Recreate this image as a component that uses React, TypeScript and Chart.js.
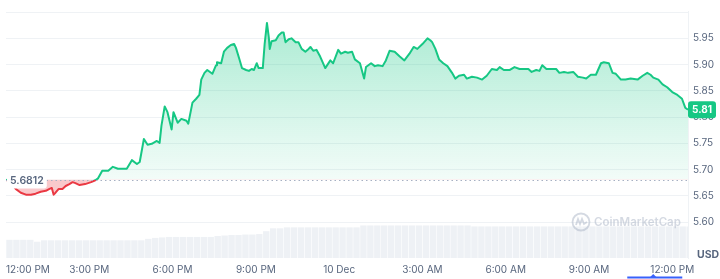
import React, { useEffect, useRef } from 'react';
import { Chart, registerables } from 'chart.js';

Chart.register(...registerables);

const BASE_PRICE = 5.6812;
const X_MAX = 1474; // minutes after 12:00 PM shown on the axis

const timeMinutes = [
  0, 11, 21, 32, 43, 54, 64, 75, 86, 94,
  99, 103, 107, 114, 122, 129, 137, 144, 150, 159,
  171, 184, 193, 199, 208, 221, 231, 242, 253, 261,
  272, 283, 289, 298, 306, 315, 326, 332, 336, 343,
  349, 358, 362, 371, 379, 390, 394, 403, 411, 418,
  422, 429, 435, 446, 454, 456, 465, 471, 478, 486,
  493, 497, 504, 510, 519, 525, 531, 536, 542, 546,
  555, 559, 564, 568, 570, 574, 583, 589, 596, 600,
  604, 611, 617, 626, 632, 639, 647, 654, 658, 664,
  671, 679, 690, 701, 707, 718, 724, 733, 739, 748,
  754, 765, 774, 778, 789, 797, 804, 814, 821, 829,
  840, 851, 861, 872, 881, 889, 900, 911, 917, 921,
  928, 936, 945, 954, 964, 971, 979, 990, 996, 1007,
  1018, 1029, 1039, 1050, 1061, 1067, 1076, 1089, 1099, 1110,
  1129, 1136, 1146, 1153, 1159, 1168, 1179, 1189, 1196, 1206,
  1215, 1226, 1236, 1247, 1254, 1264, 1275, 1286, 1292, 1303,
  1311, 1318, 1329, 1339, 1350, 1365, 1376, 1386, 1393, 1399,
  1410, 1419, 1429, 1440, 1451, 1461, 1468, 1474,
];

const prices = [
  5.6812, 5.6744, 5.6635, 5.6562, 5.6525, 5.6525, 5.6544, 5.6580, 5.6598, 5.6635,
  5.6653, 5.6525, 5.6562, 5.6635, 5.6635, 5.6690, 5.6726, 5.6763, 5.6744, 5.6708,
  5.6726, 5.6763, 5.6799, 5.6836, 5.6982, 5.6982, 5.7055, 5.7018, 5.7018, 5.7018,
  5.7182, 5.7109, 5.7146, 5.7584, 5.7474, 5.7493, 5.7547, 5.7511, 5.7839, 5.8204,
  5.8095, 5.7766, 5.8095, 5.7894, 5.7967, 5.7931, 5.7876, 5.8277, 5.8350, 5.8423,
  5.8715, 5.8843, 5.8898, 5.8825, 5.8989, 5.9044, 5.9026, 5.9245, 5.9318, 5.9372,
  5.9391, 5.9318, 5.9117, 5.8934, 5.8898, 5.8880, 5.8916, 5.8898, 5.9026, 5.8934,
  5.8934, 5.9391, 5.9792, 5.9518, 5.9299, 5.9445, 5.9464, 5.9555, 5.9610, 5.9610,
  5.9427, 5.9482, 5.9500, 5.9427, 5.9427, 5.9299, 5.9245, 5.9299, 5.9336, 5.9263,
  5.9281, 5.9153, 5.8934, 5.9080, 5.9026, 5.9281, 5.9208, 5.9245, 5.9226, 5.9245,
  5.9099, 5.9026, 5.8734, 5.8953, 5.9026, 5.8971, 5.8989, 5.8971, 5.9080, 5.9263,
  5.9245, 5.9153, 5.9080, 5.9208, 5.9336, 5.9299, 5.9391, 5.9500, 5.9464, 5.9427,
  5.9299, 5.9099, 5.9026, 5.8971, 5.8843, 5.8734, 5.8788, 5.8807, 5.8734, 5.8770,
  5.8752, 5.8715, 5.8788, 5.8916, 5.8898, 5.8953, 5.8898, 5.8898, 5.8953, 5.8916,
  5.8916, 5.8861, 5.8898, 5.8880, 5.8989, 5.8916, 5.8916, 5.8916, 5.8843, 5.8861,
  5.8843, 5.8861, 5.8770, 5.8752, 5.8734, 5.8807, 5.8807, 5.9026, 5.9044, 5.9026,
  5.8843, 5.8825, 5.8715, 5.8715, 5.8734, 5.8715, 5.8788, 5.8843, 5.8807, 5.8752,
  5.8715, 5.8624, 5.8569, 5.8478, 5.8423, 5.8350, 5.8180, 5.8140,
];

// volume, one bar per 15 minutes (millions USD)
const VOLUME_SLOT = 15;
const volumes = [
  38, 38, 38, 38, 34, 37, 37, 37, 37, 37,
  37, 37, 37, 37, 37, 37, 37, 37, 37, 37,
  40, 42, 43, 44, 44, 44, 44, 44, 44, 44,
  46, 47, 48, 48, 49, 49, 50, 56, 62, 62,
  64, 64, 64, 64, 64, 64, 64, 64, 64, 64,
  64, 68, 68, 68, 68, 68, 68, 68, 68, 68,
  68, 68, 68, 68, 68, 68, 68, 66, 66, 66,
  66, 66, 66, 66, 66, 66, 66, 66, 66, 66,
  66, 66, 66, 66, 66, 66, 66, 66, 66, 66,
  66, 66, 66, 66, 66, 66, 66, 66, 66,
];
const VOLUME_AXIS_MAX = 516;

const xTickMinutes = [0, 180, 360, 540, 720, 900, 1080, 1260, 1440];
const xTickLabels = ['12:00 PM', '3:00 PM', '6:00 PM', '9:00 PM', '10 Dec', '3:00 AM', '6:00 AM', '9:00 AM', '12:00 PM'];
const yTickValues = [5.6, 5.65, 5.7, 5.75, 5.8, 5.85, 5.9, 5.95, 6.0];

const GREEN = '#16c784';
const RED = '#ea3943';
const TEXT = '#58667e';
const FONT = 'Inter, "Noto Sans", sans-serif';

export default function App() {
  const ref = useRef<HTMLCanvasElement>(null);

  useEffect(() => {
    document.body.style.margin = '0';
    const canvas = ref.current;
    if (!canvas) return;

    const lineColor = (c: any) => {
      const ch = c.chart;
      const a = ch.chartArea;
      if (!a) return GREEN;
      const yb = ch.scales.y.getPixelForValue(BASE_PRICE);
      const t = Math.min(1, Math.max(0, (yb - a.top) / (a.bottom - a.top)));
      const g = ch.ctx.createLinearGradient(0, a.top, 0, a.bottom);
      g.addColorStop(0, GREEN);
      g.addColorStop(t, GREEN);
      g.addColorStop(t, RED);
      g.addColorStop(1, RED);
      return g;
    };

    const fillColor = (c: any) => {
      const ch = c.chart;
      const a = ch.chartArea;
      if (!a) return 'rgba(22,199,132,0.2)';
      const yb = ch.scales.y.getPixelForValue(BASE_PRICE);
      const g = ch.ctx.createLinearGradient(0, a.top, 0, yb);
      g.addColorStop(0, 'rgba(22,199,132,0.38)');
      g.addColorStop(1, 'rgba(22,199,132,0.05)');
      return g;
    };

    const decor = {
      id: 'decor',
      afterDatasetsDraw(chart: any) {
        const { ctx, chartArea: a, scales } = chart;
        const ys = scales.y;
        const xs = scales.x;
        const yb = Math.round(ys.getPixelForValue(BASE_PRICE)) + 0.5;
        ctx.save();

        // watermark
        const wmx = a.right - 107;
        const wmy = a.bottom - 36;
        const wmColor = 'rgba(170,180,198,0.5)';
        ctx.strokeStyle = wmColor;
        ctx.lineWidth = 1.8;
        ctx.beginPath();
        ctx.arc(wmx, wmy, 8.5, 0, Math.PI * 2);
        ctx.stroke();
        ctx.beginPath();
        ctx.moveTo(wmx - 5, wmy + 3);
        ctx.lineTo(wmx - 3, wmy - 3);
        ctx.lineTo(wmx - 1, wmy + 2);
        ctx.lineTo(wmx + 1, wmy - 3);
        ctx.lineTo(wmx + 3, wmy + 2);
        ctx.lineTo(wmx + 6, wmy);
        ctx.stroke();
        ctx.fillStyle = wmColor;
        ctx.font = `600 11.5px ${FONT}`;
        ctx.textAlign = 'left';
        ctx.textBaseline = 'middle';
        ctx.fillText('CoinMarketCap', wmx + 13, wmy + 1);

        // dotted baseline
        ctx.strokeStyle = '#a6b0c3';
        ctx.lineWidth = 1;
        ctx.setLineDash([1.5, 3]);
        ctx.beginPath();
        ctx.moveTo(a.left, yb);
        ctx.lineTo(a.right, yb);
        ctx.stroke();
        ctx.setLineDash([]);

        // base price label
        ctx.font = `600 10.5px ${FONT}`;
        const bw = ctx.measureText(BASE_PRICE.toFixed(4)).width;
        ctx.fillStyle = '#ffffff';
        ctx.beginPath();
        ctx.roundRect(a.left + 1, yb - 8, bw + 6, 16, 3);
        ctx.fill();
        ctx.fillStyle = TEXT;
        ctx.textAlign = 'left';
        ctx.textBaseline = 'middle';
        ctx.fillText(BASE_PRICE.toFixed(4), a.left + 4, yb + 0.5);

        // last price label
        const last = prices[prices.length - 1];
        const ly = ys.getPixelForValue(last);
        ctx.fillStyle = GREEN;
        ctx.beginPath();
        ctx.roundRect(a.right, ly - 8.5, 28, 17, 3);
        ctx.fill();
        ctx.fillStyle = '#ffffff';
        ctx.font = `bold 10px ${FONT}`;
        ctx.textAlign = 'center';
        ctx.fillText(last.toFixed(2), a.right + 14, ly + 0.5);

        // currency
        ctx.fillStyle = TEXT;
        ctx.font = `bold 10.5px ${FONT}`;
        ctx.textAlign = 'left';
        ctx.fillText('USD', a.right + 9, a.bottom - 3);

        // time range indicator
        const cx = xs.getPixelForValue(xTickMinutes[xTickMinutes.length - 1]);
        const H = chart.height;
        ctx.strokeStyle = '#3861fb';
        ctx.lineWidth = 2;
        ctx.beginPath();
        ctx.moveTo(cx - 45, H - 1.5);
        ctx.lineTo(cx + 10, H - 1.5);
        ctx.stroke();
        ctx.fillStyle = '#3861fb';
        ctx.beginPath();
        ctx.moveTo(cx - 19, H - 5);
        ctx.lineTo(cx - 23, H - 1);
        ctx.lineTo(cx - 15, H - 1);
        ctx.closePath();
        ctx.fill();

        ctx.restore();
      },
    };

    const chart = new Chart(canvas, {
      type: 'line',
      data: {
        datasets: [
          {
            type: 'line',
            data: timeMinutes.map((t, i) => ({ x: t, y: prices[i] })),
            xAxisID: 'x',
            yAxisID: 'y',
            borderColor: lineColor,
            backgroundColor: fillColor,
            borderWidth: 2,
            borderJoinStyle: 'round',
            pointRadius: 0,
            tension: 0,
            fill: { target: { value: BASE_PRICE }, below: 'rgba(234,57,67,0.27)' },
            order: 1,
          } as any,
          {
            type: 'bar',
            data: volumes.map((v, i) => ({ x: i * VOLUME_SLOT + VOLUME_SLOT / 2, y: v })),
            xAxisID: 'x',
            yAxisID: 'v',
            backgroundColor: '#eef1f5',
            barPercentage: 0.92,
            categoryPercentage: 1,
            order: 2,
          } as any,
        ],
      },
      options: {
        responsive: true,
        maintainAspectRatio: false,
        animation: false,
        layout: { padding: 0 },
        plugins: { legend: { display: false }, tooltip: { enabled: false } },
        scales: {
          x: {
            type: 'linear',
            min: 0,
            max: X_MAX,
            offset: false,
            afterBuildTicks: (s: any) => {
              s.ticks = [...xTickMinutes, X_MAX].map((v) => ({ value: v }));
            },
            afterFit: (s: any) => {
              s.height = 21;
            },
            grid: { display: false, drawTicks: false },
            border: { display: false },
            ticks: {
              autoSkip: false,
              maxRotation: 0,
              minRotation: 0,
              align: 'inner',
              padding: 6,
              color: TEXT,
              font: { family: FONT, size: 10 },
              callback: (v: any) => {
                const i = xTickMinutes.indexOf(Number(v));
                return i >= 0 ? xTickLabels[i] : '';
              },
            },
          },
          y: {
            type: 'linear',
            position: 'right',
            min: 5.532,
            max: 6.002,
            afterBuildTicks: (s: any) => {
              s.ticks = yTickValues.map((v) => ({ value: v }));
            },
            afterFit: (s: any) => {
              s.width = 32;
            },
            grid: { color: '#eff2f5', drawTicks: false },
            border: { display: true, color: '#eff2f5' },
            ticks: {
              padding: 5,
              color: TEXT,
              font: { family: FONT, size: 10 },
              callback: (v: any) => (Number(v) > 5.99 ? '' : Number(v).toFixed(2)),
            },
          },
          v: {
            type: 'linear',
            display: false,
            min: 0,
            max: VOLUME_AXIS_MAX,
          },
        },
      } as any,
      plugins: [decor],
    });

    return () => chart.destroy();
  }, []);

  return (
    <div style={{ position: 'fixed', left: 0, top: 0, width: 720, height: 279, background: '#ffffff' }}>
      <canvas ref={ref} />
    </div>
  );
}
